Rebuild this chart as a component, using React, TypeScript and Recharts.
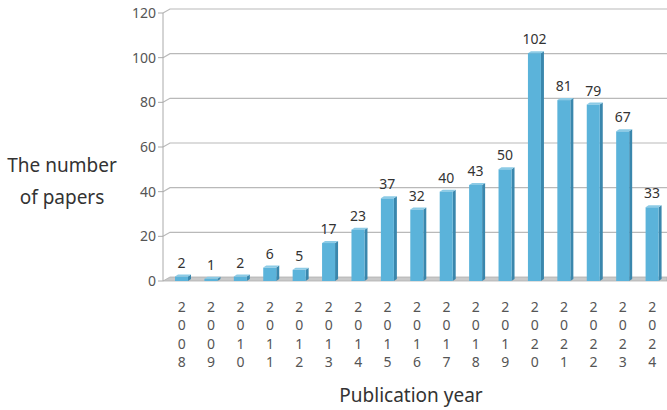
import React from 'react';
import { BarChart, Bar, XAxis, YAxis, CartesianGrid, LabelList } from 'recharts';

const years = ['2008','2009','2010','2011','2012','2013','2014','2015','2016','2017','2018','2019','2020','2021','2022','2023','2024'];
const papers = [2, 1, 2, 6, 5, 17, 23, 37, 32, 40, 43, 50, 102, 81, 79, 67, 33];
const yTicks = [0, 20, 40, 60, 80, 100, 120];

const data = years.map((y, i) => ({ year: y, count: papers[i] }));

const FONT = '"Noto Sans", "DejaVu Sans", sans-serif';
const PLOT_BOTTOM = 281;
const DX = 7;
const DY = 4;

const GridLine = (props: any) => {
  const { x1, x2, y1, key } = props;
  if (Math.abs(y1 - PLOT_BOTTOM) < 1) {
    return (
      <g key={key}>
        <polygon points={`${x1},${y1} ${x1 + DX},${y1 - DY} ${x2},${y1 - DY} ${x2},${y1}`} fill="#c9c9c9" stroke="#b0b0b0" strokeWidth={0.8} />
      </g>
    );
  }
  return (
    <g key={key}>
      <polyline points={`${x1},${y1} ${x1 + DX},${y1 - DY} ${x2},${y1 - DY}`} fill="none" stroke="#b9b9b9" strokeWidth={1.2} />
    </g>
  );
};

const Bar3D = (props: any) => {
  const { x, y, width, height } = props;
  if (height == null || width == null) return null;
  const b = y + height;
  const d = 3;
  const t = 2;
  return (
    <g>
      <polygon points={`${x + width},${y} ${x + width + d},${y - t} ${x + width + d},${b - t} ${x + width},${b}`} fill="#3a87ad" />
      <polygon points={`${x},${y} ${x + d},${y - t} ${x + width + d},${y - t} ${x + width},${y}`} fill="#8ccbe6" />
      <rect x={x} y={y} width={width} height={height} fill="#5bb3da" />
    </g>
  );
};

const YearTick = (props: any) => {
  const { x, y, payload } = props;
  const chars = String(payload.value).split('');
  return (
    <g>
      {chars.map((c, i) => (
        <text key={i} x={x} y={y + 23 + i * 18.3} textAnchor="middle" fontSize={14} fill="#555" fontFamily={FONT}>{c}</text>
      ))}
    </g>
  );
};

const YLabel = () => (
  <g>
    <text x={62} y={172} textAnchor="middle" fontSize={19} fill="#333" fontFamily={FONT}>The number</text>
    <text x={62} y={204} textAnchor="middle" fontSize={19} fill="#333" fontFamily={FONT}>of papers</text>
  </g>
);

const XLabel = () => (
  <text x={411} y={402} textAnchor="middle" fontSize={19} fill="#333" fontFamily={FONT}>Publication year</text>
);

export default function App() {
  return (
    <div style={{ position: 'absolute', left: 0, top: 0, background: '#fff' }}>
      <BarChart width={667} height={410} data={data} margin={{ top: 13, right: 0, left: 0, bottom: 0 }} barSize={13}>
        <CartesianGrid vertical={false} horizontal={GridLine as any} />
        <XAxis dataKey="year" height={129} axisLine={false} tickLine={false} interval={0} padding={{ left: 4, right: 0 }} tick={<YearTick />} label={<XLabel />} />
        <YAxis width={163} domain={[0, 120]} ticks={yTicks} interval={0} axisLine={{ stroke: '#aaa' }} tickLine={{ stroke: '#aaa' }} tickSize={5} tick={{ fontSize: 14, fill: '#555', fontFamily: FONT }} label={<YLabel />} />
        <Bar dataKey="count" isAnimationActive={false} shape={<Bar3D />}>
          <LabelList dataKey="count" position="top" offset={9} fontSize={14} fill="#333" fontFamily={FONT} />
        </Bar>
      </BarChart>
    </div>
  );
}
